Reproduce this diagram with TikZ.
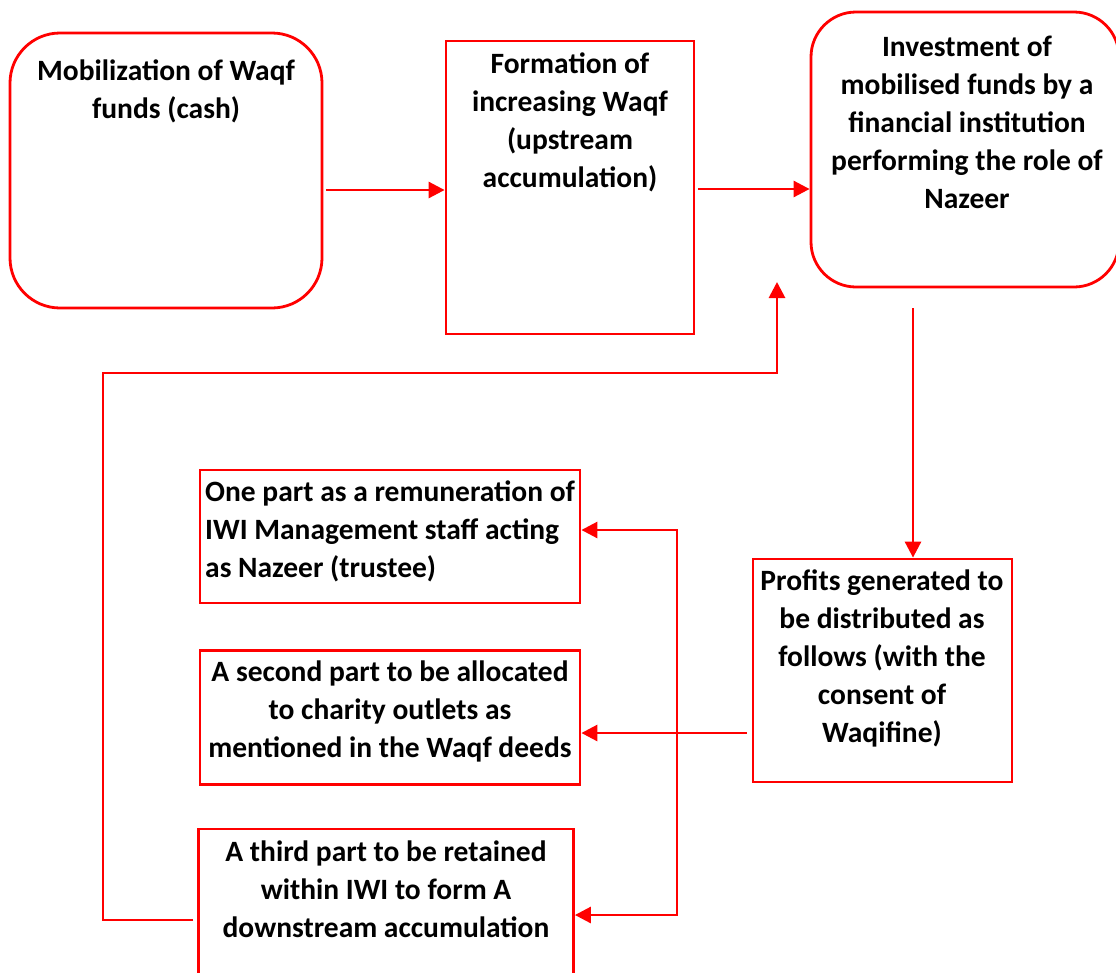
\documentclass[tikz,border=0pt]{standalone}
\usepackage{fontspec}
\setmainfont{Carlito}
\usetikzlibrary{arrows.meta}
\tikzset{
  box/.style={draw=red, line width=2.8pt, inner sep=0pt},
  rbox/.style={box, rounded corners=50pt},
  txt/.style={anchor=north, inner sep=0pt, align=center, font=\fontsize{29.5}{38}\selectfont\bfseries},
  arr/.style={draw=red, line width=2.8pt, -{Triangle[length=16pt,width=16pt]}},
  barr/.style={draw=red, line width=2.8pt, {Triangle[length=16pt,width=16pt]}-{Triangle[length=16pt,width=16pt]}},
  ln/.style={draw=red, line width=2.8pt}
}
\begin{document}
\begin{tikzpicture}[x=1pt,y=-1pt]
\useasboundingbox (0,0) rectangle (1116,972);
\clip (0,0) rectangle (1116,972);
% boxes
\node[rbox, minimum width=312pt, minimum height=275pt] (A) at (166,170.5) {};
\node[box, minimum width=248pt, minimum height=293pt] (B) at (570,187.5) {};
\node[rbox, rounded corners=45pt, minimum width=308pt, minimum height=275pt] (C) at (965,149.5) {};
\node[box, minimum width=259pt, minimum height=223pt] (D) at (882.5,670.5) {};
\node[box, minimum width=380pt, minimum height=133pt] (E1) at (390,536.5) {};
\node[box, minimum width=380pt, minimum height=134pt] (E2) at (390,717.5) {};
\node[box, minimum width=375pt, minimum height=170pt] (E3) at (386,914) {};
% texts
\node[txt] (tA) at (166,60) {Mobilization of Waqf\\funds (cash)};
\node[txt] (tB) at (570,53) {Formation of\\increasing Waqf\\(upstream\\accumulation)};
\node[txt] (tC) at (967,36) {Investment of\\mobilised funds by a\\financial institution\\performing the role of\\Nazeer};
\node[txt] (tD) at (882,570) {Profits generated to\\be distributed as\\follows (with the\\consent of\\Waqifine)};
\node[txt, align=left, anchor=north west] (tE1) at (205,481) {One part as a remuneration of\\IWI Management staff acting\\as Nazeer (trustee)};
\node[txt] (tE2) at (390,661) {A second part to be allocated\\to charity outlets as\\mentioned in the Waqf deeds};
\node[txt] (tE3) at (386,841) {A third part to be retained\\within IWI to form A\\downstream accumulation};
% helper coordinates
\coordinate (yab) at (0,190);
\coordinate (ybc) at (0,189);
\coordinate (c1) at (913,308);
\coordinate (y1) at (0,530);
\coordinate (y2) at (0,733);
\coordinate (y3) at (0,915);
\coordinate (j1) at (677,530);
\coordinate (j2) at (677,915);
\coordinate (f0) at (193,920);
\coordinate (f1) at (103,920);
\coordinate (f2) at (103,373);
\coordinate (f3) at (777,373);
\coordinate (f4) at (777,282);
% connectors
\draw[arr] ([xshift=3pt]A.east |- yab) -- (B.west |- yab);
\draw[arr] ([xshift=3pt]B.east |- ybc) -- (C.west |- ybc);
\draw[arr] (c1) -- (c1 |- D.north);
\draw[arr] ([xshift=-5pt]D.west |- y2) -- (E2.east |- y2);
\draw[barr] (E1.east |- y1) -- (j1) -- (j2) -- (E3.east |- y3);
\draw[arr] (f0) -- (f1) -- (f2) -- (f3) -- (f4);
\end{tikzpicture}
\end{document}
